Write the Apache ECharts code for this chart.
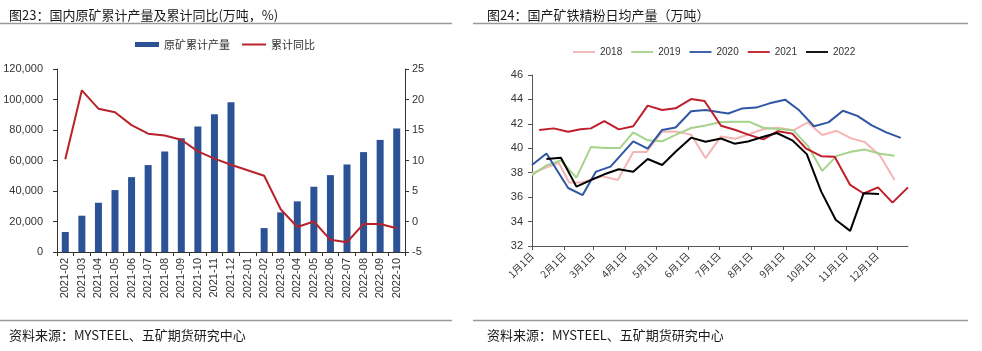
<!DOCTYPE html>
<html>
<head>
<meta charset="utf-8">
<script src="https://cdn.jsdelivr.net/npm/echarts@6/dist/echarts.min.js"></script>
<style>
  html, body { margin: 0; padding: 0; background: #fff; }
  #main { width: 982px; height: 351px; }
</style>
</head>
<body>
<div id="main"></div>
<script>
// 图23 data
const months = ['2021-02', '2021-03', '2021-04', '2021-05', '2021-06', '2021-07', '2021-08', '2021-09', '2021-10', '2021-11', '2021-12',
  '2022-01', '2022-02', '2022-03', '2022-04', '2022-05', '2022-06', '2022-07', '2022-08', '2022-09', '2022-10'];
const oreOutput = [13100, 23800, 32300, 40600, 49100, 57000, 65900, 74600, 82300, 90300, 98200,
  null, 15700, 26000, 33200, 42800, 50400, 57400, 65500, 73500, 81000];
const oreYoY = [10.2, 21.5, 18.5, 17.9, 15.8, 14.4, 14.1, 13.4, 11.5, 10.3, 9.3,
  null, 7.5, 2.0, -0.9, 0.0, -3.0, -3.4, -0.4, -0.4, -1.1];

// 图24 data (month-day, value)
const d2018 = ['01-01', '01-15', '01-27', '02-06', '02-18', '03-10', '03-25', '04-09', '04-22', '05-07', '05-20', '06-04', '06-18',
  '07-03', '07-17', '07-30', '08-13', '08-27', '09-11', '09-25', '10-09', '10-23', '11-06', '11-19', '12-04', '12-18'];
const v2018 = [37.95, 38.45, 38.8, 37.2, 37.2, 37.7, 37.4, 39.7, 39.7, 41.36, 41.38, 41.12, 39.2,
  40.97, 40.78, 41.15, 41.58, 41.68, 41.47, 42.12, 41.09, 41.43, 40.81, 40.52, 39.38, 37.4];
const d2019 = ['01-01', '01-15', '01-29', '02-13', '02-27', '03-13', '03-27', '04-09', '04-23', '05-07', '05-20', '06-04', '06-18',
  '07-03', '07-17', '07-30', '08-13', '08-27', '09-11', '09-25', '10-09', '10-23', '11-06', '11-19', '12-04', '12-18'];
const v2019 = [37.8, 38.6, 39.0, 37.6, 40.1, 40.02, 40.02, 41.3, 40.65, 40.57, 41.1, 41.66, 41.87,
  42.15, 42.18, 42.18, 41.68, 41.58, 41.47, 40.2, 38.15, 39.38, 39.72, 39.9, 39.55, 39.38];
const d2020 = ['01-01', '01-15', '02-05', '02-19', '03-04', '03-18', '04-09', '04-23', '05-07', '05-20', '06-04', '06-18', '07-02',
  '07-10', '07-23', '08-06', '08-19', '09-03', '09-16', '10-01', '10-15', '10-29', '11-12', '11-26', '12-10', '12-24'];
const v2020 = [38.63, 39.58, 36.75, 36.17, 38.09, 38.5, 40.57, 39.97, 41.5, 41.7, 43.03, 43.13, 42.95,
  42.85, 43.25, 43.33, 43.68, 43.98, 43.16, 41.8, 42.12, 43.07, 42.65, 41.88, 41.3, 40.85];
const d2021 = ['01-08', '01-22', '02-05', '02-17', '02-27', '03-12', '03-26', '04-09', '04-23', '05-07', '05-20', '06-04', '06-17',
  '07-03', '07-17', '07-30', '08-13', '08-27', '09-10', '09-23', '10-08', '10-21', '11-05', '11-18', '12-02', '12-16', '12-31'];
const v2021 = [41.5, 41.63, 41.36, 41.55, 41.63, 42.23, 41.55, 41.8, 43.49, 43.13, 43.27, 44.03, 43.87,
  41.85, 41.5, 41.1, 40.73, 41.4, 41.2, 40.0, 39.35, 39.3, 37.0, 36.3, 36.8, 35.55, 36.8];
const d2022 = ['01-15', '01-29', '02-13', '02-27', '03-12', '03-26', '04-09', '04-23', '05-07', '05-20', '06-04', '06-18',
  '07-03', '07-16', '07-29', '08-13', '08-26', '09-10', '09-24', '10-08', '10-22', '11-05', '11-18', '12-03'];
const v2022 = [39.12, 39.23, 36.86, 37.4, 37.87, 38.28, 38.08, 39.12, 38.63, 39.72, 40.87, 40.54,
  40.8, 40.38, 40.55, 40.95, 41.25, 40.65, 39.52, 36.45, 34.15, 33.24, 36.31, 36.25];

const cjk = '"Noto Sans CJK SC", sans-serif';
const latin = '"Liberation Sans", Arial, sans-serif';
// thin line icon for legend entries of line series
const lineIcon = 'path://M0,0H24V2H0Z';

function pairs(days, vals) {
  return days.map((d, i) => ['2021-' + d, vals[i]]);
}

const yearSeries = [
  { name: '2018', days: d2018, vals: v2018, color: '#F4B5B5' },
  { name: '2019', days: d2019, vals: v2019, color: '#A6D38A' },
  { name: '2020', days: d2020, vals: v2020, color: '#2F56A3' },
  { name: '2021', days: d2021, vals: v2021, color: '#BF1E2B' },
  { name: '2022', days: d2022, vals: v2022, color: '#000000' }
];

const chart = echarts.init(document.getElementById('main'));

const textBase = { fontFamily: cjk, fontSize: 13, fontWeight: 'normal', color: '#1a1a1a' };

const option = {
  backgroundColor: '#fff',
  animation: false,
  title: [
    { text: '图23：国内原矿累计产量及累计同比(万吨，%)', left: 4, top: 4, textStyle: textBase },
    { text: '图24：国产矿铁精粉日均产量（万吨）', left: 482, top: 4, textStyle: textBase },
    { text: '资料来源：MYSTEEL、五矿期货研究中心', left: 4, top: 324, textStyle: textBase },
    { text: '资料来源：MYSTEEL、五矿期货研究中心', left: 482, top: 324, textStyle: textBase }
  ],
  graphic: [
    { type: 'line', shape: { x1: 0, y1: 23.5, x2: 452, y2: 23.5 }, style: { stroke: '#9a9a9a', lineWidth: 1.5 } },
    { type: 'line', shape: { x1: 473, y1: 23.5, x2: 968, y2: 23.5 }, style: { stroke: '#9a9a9a', lineWidth: 1.5 } },
    { type: 'line', shape: { x1: 0, y1: 320.5, x2: 452, y2: 320.5 }, style: { stroke: '#9a9a9a', lineWidth: 1.5 } },
    { type: 'line', shape: { x1: 473, y1: 320.5, x2: 968, y2: 320.5 }, style: { stroke: '#9a9a9a', lineWidth: 1.5 } }
  ],
  legend: [
    {
      data: [
        { name: '原矿累计产量', icon: 'rect' },
        { name: '累计同比', icon: lineIcon }
      ],
      left: 135, top: 39, padding: 0,
      itemWidth: 24, itemHeight: 5, itemGap: 12,
      textStyle: { fontFamily: cjk, fontSize: 11, color: '#333' }
    },
    {
      data: yearSeries.map(s => ({ name: s.name, icon: lineIcon })),
      left: 573, top: 47, padding: 0,
      itemWidth: 22, itemHeight: 2, itemGap: 9,
      textStyle: { fontFamily: latin, fontSize: 10, color: '#333' }
    }
  ],
  grid: [
    { left: 57, right: 577, top: 69, bottom: 99 },
    { left: 532, right: 74, top: 75, bottom: 105 }
  ],
  xAxis: [
    {
      type: 'category', gridIndex: 0, data: months,
      axisLine: { lineStyle: { color: '#333' } },
      axisTick: { show: true, interval: 0, length: 4, lineStyle: { color: '#333' } },
      axisLabel: { interval: 0, rotate: 90, margin: 6, fontFamily: latin, fontSize: 11, color: '#333' }
    },
    {
      type: 'time', gridIndex: 1,
      min: '2021-01-01', max: '2021-12-31',
      splitNumber: 12, minInterval: 28 * 86400000, maxInterval: 31 * 86400000,
      axisLine: { lineStyle: { color: '#555' } },
      axisTick: { show: true, length: 4, lineStyle: { color: '#555' } },
      axisLabel: {
        rotate: 45, margin: 8, fontFamily: cjk, fontSize: 10, color: '#333',
        showMinLabel: true, showMaxLabel: false,
        formatter: function (val) {
          const d = new Date(val);
          return (d.getMonth() + 1) + '月' + d.getDate() + '日';
        }
      },
      splitLine: { show: false }
    }
  ],
  yAxis: [
    {
      type: 'value', gridIndex: 0, min: 0, max: 120000, interval: 20000, position: 'left',
      axisLine: { show: true, lineStyle: { color: '#333' } },
      axisTick: { show: true, length: 4, lineStyle: { color: '#333' } },
      axisLabel: { margin: 14, fontFamily: latin, fontSize: 11, color: '#333' },
      splitLine: { show: false }
    },
    {
      type: 'value', gridIndex: 0, min: -5, max: 25, interval: 5, position: 'right',
      axisLine: { show: true, lineStyle: { color: '#333' } },
      axisTick: { show: true, length: 4, lineStyle: { color: '#333' } },
      axisLabel: { margin: 7, fontFamily: latin, fontSize: 11, color: '#333' },
      splitLine: { show: false }
    },
    {
      type: 'value', gridIndex: 1, min: 32, max: 46, interval: 2,
      axisLine: { show: true, lineStyle: { color: '#555' } },
      axisTick: { show: true, length: 4, lineStyle: { color: '#555' } },
      axisLabel: { margin: 9, fontFamily: latin, fontSize: 11, color: '#333' },
      splitLine: { show: false }
    }
  ],
  series: [
    {
      name: '原矿累计产量', type: 'bar', xAxisIndex: 0, yAxisIndex: 0,
      data: oreOutput, barWidth: 7,
      itemStyle: { color: '#2C5296' }
    },
    {
      name: '累计同比', type: 'line', xAxisIndex: 0, yAxisIndex: 1,
      data: oreYoY, connectNulls: true, symbol: 'none',
      lineStyle: { color: '#B8232B', width: 2 }, itemStyle: { color: '#B8232B' }
    }
  ].concat(yearSeries.map(s => ({
    name: s.name, type: 'line', xAxisIndex: 1, yAxisIndex: 2,
    data: pairs(s.days, s.vals), symbol: 'none',
    lineStyle: { color: s.color, width: 2 }, itemStyle: { color: s.color }
  })))
};

chart.setOption(option);
</script>
</body>
</html>
